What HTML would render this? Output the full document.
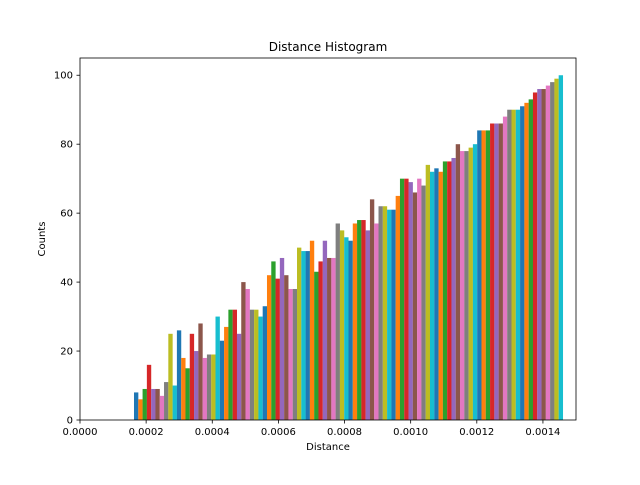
<!DOCTYPE html>
<html><head><meta charset="utf-8"><style>
body{margin:0;background:#fff;font-family:"Liberation Sans","DejaVu Sans",sans-serif}
svg text{font-family:"DejaVu Sans","Liberation Sans",sans-serif}
</style></head><body>
<svg id="chart" width="640" height="480" viewBox="0 0 640 480" xmlns="http://www.w3.org/2000/svg">
<rect width="640" height="480" fill="#fff"/>
<text x="328" y="51" text-anchor="middle" font-size="12" fill="#000">Distance Histogram</text>
<text x="328" y="450" text-anchor="middle" font-size="10" fill="#000">Distance</text>
<text x="45" y="239" text-anchor="middle" font-size="10" fill="#000" transform="rotate(-90 45 239)">Counts</text>
<g id="bars"></g>
<g id="xticks"></g>
<g id="yticks"></g>
<rect x="80" y="58" width="496" height="362" fill="none" stroke="#000" stroke-width="0.8"/>
</svg>
<script>
const counts = [8,6,9,16,9,9,7,11,25,10,26,18,15,25,20,28,18,19,19,30,23,27,32,32,25,40,38,32,32,30,33,42,46,41,47,42,38,38,50,49,49,52,43,46,52,47,47,57,55,53,52,57,58,58,55,64,57,62,62,61,61,65,70,70,69,66,70,68,74,72,73,72,75,75,76,80,78,78,79,80,84,84,84,86,86,86,88,90,90,90,91,92,93,95,96,96,97,98,99,100];
const binRange = [0.0001633, 0.0014606];
const xTicks = [0, 0.0002, 0.0004, 0.0006, 0.0008, 0.0010, 0.0012, 0.0014];
const yTicks = [0, 20, 40, 60, 80, 100];
const palette = ['#1f77b4','#ff7f0e','#2ca02c','#d62728','#9467bd','#8c564b','#e377c2','#7f7f7f','#bcbd22','#17becf'];
const X0=80,X1=576,Y0=420,Y1=58,xMax=0.0015,yMax=105;
const xs=v=>X0+v/xMax*(X1-X0);
const ys=v=>Y0-v/yMax*(Y0-Y1);
const NS='http://www.w3.org/2000/svg';
const bars=document.getElementById('bars');
const n=counts.length;
const w=(xs(binRange[1])-xs(binRange[0]))/n;
counts.forEach((c,i)=>{
  const r=document.createElementNS(NS,'rect');
  r.setAttribute('x',xs(binRange[0])+i*w);
  r.setAttribute('y',ys(c));
  r.setAttribute('width',w+0.05);
  r.setAttribute('height',Y0-ys(c));
  r.setAttribute('fill',palette[i%10]);
  
  
  bars.appendChild(r);
});
const xt=document.getElementById('xticks');
xTicks.forEach(t=>{
  const x=xs(t);
  const l=document.createElementNS(NS,'line');
  l.setAttribute('x1',x);l.setAttribute('x2',x);l.setAttribute('y1',420);l.setAttribute('y2',423.5);
  l.setAttribute('stroke','#000');l.setAttribute('stroke-width','0.8');
  
  
  xt.appendChild(l);
  const s=document.createElementNS(NS,'text');
  s.setAttribute('x',x);s.setAttribute('y',435);s.setAttribute('text-anchor','middle');s.setAttribute('font-size','10');
  s.textContent=t.toFixed(4);
  
  
  xt.appendChild(s);
});
const yt=document.getElementById('yticks');
yTicks.forEach(t=>{
  const y=ys(t);
  const l=document.createElementNS(NS,'line');
  l.setAttribute('x1',76.5);l.setAttribute('x2',80);l.setAttribute('y1',y);l.setAttribute('y2',y);
  l.setAttribute('stroke','#000');l.setAttribute('stroke-width','0.8');
  
  
  yt.appendChild(l);
  const s=document.createElementNS(NS,'text');
  s.setAttribute('x',73);s.setAttribute('y',y+3.5);s.setAttribute('text-anchor','end');s.setAttribute('font-size','10');
  s.textContent=t;
  
  
  yt.appendChild(s);
});
</script>
</body></html>
